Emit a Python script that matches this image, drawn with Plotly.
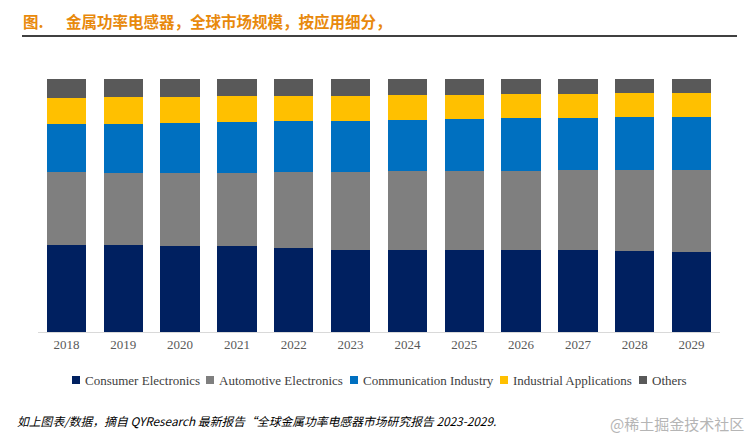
import plotly.graph_objects as go

years = ["2018", "2019", "2020", "2021", "2022", "2023", "2024", "2025", "2026", "2027", "2028", "2029"]
consumer = [34.3, 34.3, 34.0, 33.9, 33.1, 32.3, 32.3, 32.3, 32.3, 32.3, 31.9, 31.5]
automotive = [28.9, 28.5, 28.8, 28.9, 30.1, 30.9, 31.4, 31.4, 31.4, 31.8, 32.1, 32.4]
communication = [19.0, 19.4, 19.9, 20.2, 20.2, 20.2, 20.1, 20.5, 20.8, 20.5, 21.0, 21.0]
industrial = [10.4, 10.7, 10.3, 10.3, 10.0, 10.0, 10.0, 9.6, 9.5, 9.5, 9.6, 9.6]
others = [7.4, 7.1, 7.0, 6.7, 6.6, 6.6, 6.2, 6.2, 5.9, 5.9, 5.4, 5.4]

series_names = ["Consumer Electronics", "Automotive Electronics", "Communication Industry",
                "Industrial Applications", "Others"]
series_values = [consumer, automotive, communication, industrial, others]
series_colors = ["#002060", "#7F7F7F", "#0070C0", "#FFC000", "#595959"]

W, H = 749, 440
x0, x1 = 38, 720
ytop, ybot = 79, 332

fig = go.Figure()
for name, vals, color in zip(series_names, series_values, series_colors):
    fig.add_trace(go.Bar(x=years, y=vals, name=name, showlegend=False,
                         marker=dict(color=color, line=dict(width=0))))

fig.update_layout(
    width=W, height=H,
    barmode="stack",
    bargap=0.31,
    paper_bgcolor="white",
    plot_bgcolor="white",
    margin=dict(l=0, r=0, t=0, b=0),
    xaxis=dict(
        domain=[x0 / W, x1 / W],
        showline=True, linecolor="#D9D9D9", linewidth=1,
        ticks="", showgrid=False,
        tickfont=dict(family="Liberation Serif", size=13, color="#595959"),
    ),
    yaxis=dict(
        domain=[1 - ybot / H, 1 - ytop / H],
        range=[0, 100], visible=False, showgrid=False,
    ),
    showlegend=False,
    font=dict(family="Liberation Serif"),
)

def px(x):
    return x / W

def py(y):
    return 1 - y / H

# Compact legend (square + label), laid out like the reference
legend_sq_x = [72, 206, 350, 500, 639]
legend_y = 380
for name, color, sx in zip(series_names, series_colors, legend_sq_x):
    fig.add_shape(type="rect", xref="paper", yref="paper",
                  x0=px(sx), x1=px(sx + 8), y0=py(legend_y + 4), y1=py(legend_y - 4),
                  fillcolor=color, line=dict(width=0))
    fig.add_annotation(xref="paper", yref="paper", x=px(sx + 11), y=py(legend_y),
                       xanchor="left", yanchor="middle", text=name, showarrow=False,
                       font=dict(family="Liberation Serif", size=13, color="#404040"))

# Title
fig.add_annotation(
    xref="paper", yref="paper", x=px(21), y=py(21), xanchor="left", yanchor="middle",
    text="<b>图.</b>", showarrow=False,
    font=dict(family="Noto Sans CJK SC", size=15.5, color="#E8890C"),
)
fig.add_annotation(
    xref="paper", yref="paper", x=px(64), y=py(21), xanchor="left", yanchor="middle",
    text="<b>金属功率电感器，全球市场规模，按应用细分，</b>", showarrow=False,
    font=dict(family="Noto Sans CJK SC", size=15.5, color="#E8890C"),
)
fig.add_shape(
    type="line", xref="paper", yref="paper",
    x0=px(22), x1=px(737), y0=py(36), y1=py(36),
    line=dict(color="black", width=1.5),
)

# Footer
fig.add_annotation(
    xref="paper", yref="paper", x=px(15), y=py(420), xanchor="left", yanchor="middle",
    text="<i>如上图表/数据，摘自 QYResearch 最新报告“全球金属功率电感器市场研究报告 2023-2029.</i>",
    showarrow=False,
    font=dict(family="Noto Sans CJK SC", size=11.8, color="black"),
)
fig.add_annotation(
    xref="paper", yref="paper", x=px(746), y=py(423), xanchor="right", yanchor="middle",
    text="@稀土掘金技术社区", showarrow=False,
    font=dict(family="Noto Sans CJK SC", size=15, color="#B5B5B5"),
)

fig.write_html("out.html", config={"displayModeBar": False},
               post_script="document.body.style.margin='0';")
